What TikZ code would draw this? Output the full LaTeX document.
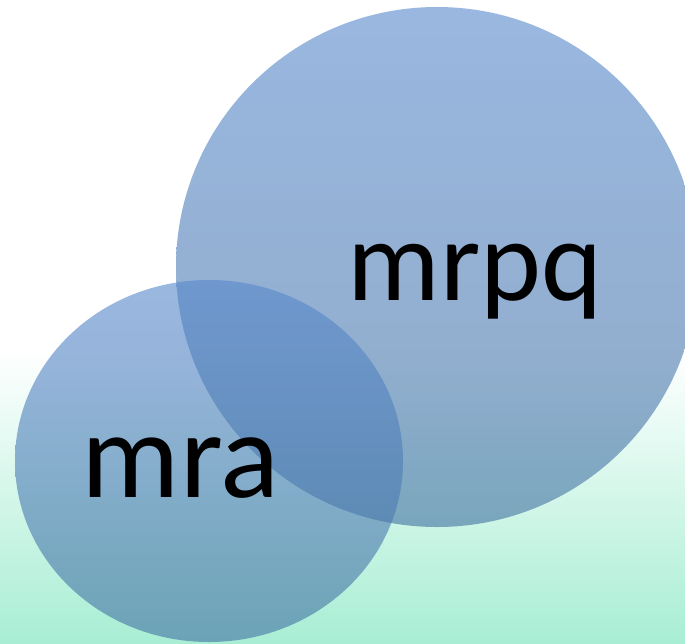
\documentclass[tikz,border=0pt]{standalone}
\usepackage{fontspec}
\setmainfont{Carlito}
\definecolor{bgbot}{RGB}{168,238,212}
\definecolor{ctop}{RGB}{86,136,204}
\definecolor{cbot}{RGB}{68,114,162}
\tikzset{
  blob/.style={fill opacity=0.6, top color=ctop, bottom color=cbot, draw=none},
  lbl/.style={text=black, inner sep=0pt, anchor=base}
}
\begin{document}
\begin{tikzpicture}[x=1pt,y=-1pt]
\useasboundingbox (0,0) rectangle (685,643);
\fill[white] (0,0) rectangle (685,350);
\shade[top color=white, bottom color=bgbot] (0,349.5) rectangle (685,643);
\path[blob] (437,267) ellipse [x radius=261, y radius=260];
\path[blob] (209,461) ellipse [x radius=194, y radius=181];
\node[lbl, font=\fontsize{116}{120}\selectfont] (big) at (475,300) {mrpq};
\node[lbl, font=\fontsize{123}{126}\selectfont] (small) at (180.5,497) {mra};
\end{tikzpicture}
\end{document}
